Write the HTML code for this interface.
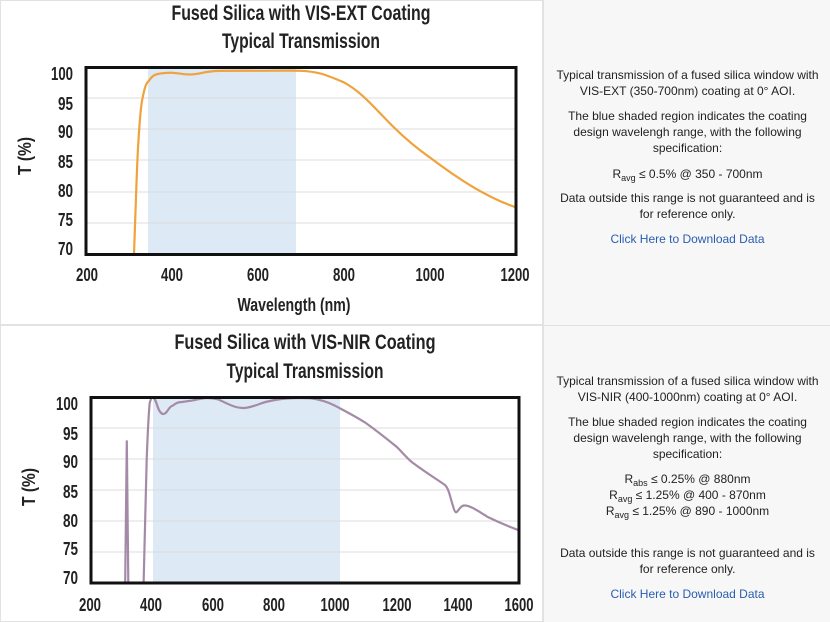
<!DOCTYPE html>
<html><head><meta charset="utf-8"><style>
html,body{margin:0;padding:0;background:#fff;}
body{width:830px;height:622px;overflow:hidden;position:relative;font-family:"Liberation Sans",sans-serif;}
.rp{position:absolute;left:543px;width:287px;background:#f7f7f7;border-left:1px solid #e2e2e2;}
.t{position:absolute;left:0;width:287px;text-align:center;font-size:12px;color:#222;line-height:16px;}
.t a{color:#2a5db0;text-decoration:none;}
sub{font-size:9px;vertical-align:-3px;line-height:0;}
</style></head><body>
<svg width="543" height="622" style="position:absolute;left:0;top:0" font-family="'Liberation Sans',sans-serif">
<rect x="0.5" y="0.5" width="542" height="324" fill="none" stroke="#e2e2e2"/>
<rect x="0.5" y="325.5" width="542" height="296" fill="none" stroke="#e2e2e2"/>
<!-- chart 1 -->
<g font-weight="bold" fill="#222" text-anchor="middle">
<text x="301" y="20" font-size="21" textLength="259" lengthAdjust="spacingAndGlyphs">Fused Silica with VIS-EXT Coating</text>
<text x="301" y="48" font-size="21" textLength="158" lengthAdjust="spacingAndGlyphs">Typical Transmission</text>
<text x="294" y="311" font-size="18" textLength="113" lengthAdjust="spacingAndGlyphs">Wavelength (nm)</text>
<text transform="translate(31,156) rotate(-90)" font-size="18" textLength="38" lengthAdjust="spacingAndGlyphs">T (%)</text>
</g>
<rect x="148" y="67" width="148" height="187" fill="#dde9f5"/>
<g stroke="#dcdcdc" stroke-width="1">
<line x1="86" x2="516" y1="98" y2="98"/><line x1="86" x2="516" y1="129" y2="129"/><line x1="86" x2="516" y1="160" y2="160"/><line x1="86" x2="516" y1="192" y2="192"/><line x1="86" x2="516" y1="223" y2="223"/>
</g>
<path d="M134,254 C136,200 137,160 138.4,141.8 C140,115 141,104 142.6,98 C144.5,88 146,83 149,80.7 C152,76 155,74 159.8,73.6 C165,72.8 168,72.6 172.6,72.8 C180,73.2 183,74.5 189.7,74.5 C198,74.5 205,71.5 215.4,71 C230,70.6 245,70.8 258,70.8 C275,70.8 290,70.4 301,70.8 C310,71.2 315,72 322.4,74 C330,76.5 336,79 343.8,82.3 C360,91 372,105 386.6,120 C400,134 415,147 429.6,157.3 C445,169 458,178 472.2,186.6 C488,196 500,202 515,207" fill="none" stroke="#f0a23d" stroke-width="2.2"/>
<rect x="86" y="67.5" width="430" height="187" fill="none" stroke="#111" stroke-width="3"/>
<g font-size="18" fill="#222" font-weight="bold" text-anchor="end">
<text x="73" y="80" textLength="22" lengthAdjust="spacingAndGlyphs">100</text><text x="73" y="110" textLength="15" lengthAdjust="spacingAndGlyphs">95</text><text x="73" y="138" textLength="15" lengthAdjust="spacingAndGlyphs">90</text><text x="73" y="168" textLength="15" lengthAdjust="spacingAndGlyphs">85</text><text x="73" y="197" textLength="15" lengthAdjust="spacingAndGlyphs">80</text><text x="73" y="226" textLength="15" lengthAdjust="spacingAndGlyphs">75</text><text x="73" y="255" textLength="15" lengthAdjust="spacingAndGlyphs">70</text>
</g>
<g font-size="18" fill="#222" font-weight="bold" text-anchor="middle">
<text x="87" y="281" textLength="22" lengthAdjust="spacingAndGlyphs">200</text><text x="172" y="281" textLength="22" lengthAdjust="spacingAndGlyphs">400</text><text x="258" y="281" textLength="22" lengthAdjust="spacingAndGlyphs">600</text><text x="344" y="281" textLength="22" lengthAdjust="spacingAndGlyphs">800</text><text x="430" y="281" textLength="29" lengthAdjust="spacingAndGlyphs">1000</text><text x="515" y="281" textLength="29" lengthAdjust="spacingAndGlyphs">1200</text>
</g>
<!-- chart 2 -->
<g font-weight="bold" fill="#222" text-anchor="middle">
<text x="305" y="349" font-size="21" textLength="261" lengthAdjust="spacingAndGlyphs">Fused Silica with VIS-NIR Coating</text>
<text x="305" y="378" font-size="21" textLength="157" lengthAdjust="spacingAndGlyphs">Typical Transmission</text>
<text transform="translate(35,487) rotate(-90)" font-size="18" textLength="38" lengthAdjust="spacingAndGlyphs">T (%)</text>
</g>
<rect x="153" y="397" width="187" height="186" fill="#dde9f5"/>
<g stroke="#dcdcdc" stroke-width="1">
<line x1="91" x2="519" y1="428" y2="428"/><line x1="91" x2="519" y1="459" y2="459"/><line x1="91" x2="519" y1="490" y2="490"/><line x1="91" x2="519" y1="521" y2="521"/><line x1="91" x2="519" y1="552" y2="552"/>
</g>
<path d="M125.2,583 L126.8,440.4 L128.3,583" fill="none" stroke="#a58aa8" stroke-width="2.2"/>
<path d="M143.6,583 C145,520 146,480 146.7,459 C148,425 149,410 149.7,403 C151,398 152,397.5 152.8,397.5 C155,398 156,402 157.4,406 C159,411 161,414 163.5,414 C167,414 169,406 172.7,405.7 C176,403 178,402 181.9,402 C186,401.5 188,401 191,400.7 C198,399.5 202,398 206.4,398 C211,398 215,398.5 218.6,399.5 C228,404 235,408 243.2,408 C252,408 260,403 267.7,401.5 C278,399 288,398 298.4,398 C304,398 307,398 310.6,398.3 C320,399.5 328,402 335,405.7 C345,411 355,416 365.8,423 C377,431 387,439 396.4,446.6 C402,452 406,457 411.7,462 C425,472 438,480 445,485 C449,489 450,497 453,506 C454,510 455,512 456.1,512.3 C458,512 460,506 463.8,505.5 C470,505 478,511 488.3,517.3 C500,523 510,527 519,530.3" fill="none" stroke="#a58aa8" stroke-width="2.2"/>
<rect x="91" y="397.5" width="428" height="185.5" fill="none" stroke="#111" stroke-width="3"/>
<g font-size="18" fill="#222" font-weight="bold" text-anchor="end">
<text x="78" y="410" textLength="22" lengthAdjust="spacingAndGlyphs">100</text><text x="78" y="440" textLength="15" lengthAdjust="spacingAndGlyphs">95</text><text x="78" y="468" textLength="15" lengthAdjust="spacingAndGlyphs">90</text><text x="78" y="498" textLength="15" lengthAdjust="spacingAndGlyphs">85</text><text x="78" y="527" textLength="15" lengthAdjust="spacingAndGlyphs">80</text><text x="78" y="555" textLength="15" lengthAdjust="spacingAndGlyphs">75</text><text x="78" y="584" textLength="15" lengthAdjust="spacingAndGlyphs">70</text>
</g>
<g font-size="18" fill="#222" font-weight="bold" text-anchor="middle">
<text x="90" y="611" textLength="22" lengthAdjust="spacingAndGlyphs">200</text><text x="151" y="611" textLength="22" lengthAdjust="spacingAndGlyphs">400</text><text x="213" y="611" textLength="22" lengthAdjust="spacingAndGlyphs">600</text><text x="274" y="611" textLength="22" lengthAdjust="spacingAndGlyphs">800</text><text x="335" y="611" textLength="29" lengthAdjust="spacingAndGlyphs">1000</text><text x="397" y="611" textLength="29" lengthAdjust="spacingAndGlyphs">1200</text><text x="458" y="611" textLength="29" lengthAdjust="spacingAndGlyphs">1400</text><text x="519" y="611" textLength="29" lengthAdjust="spacingAndGlyphs">1600</text>
</g>
</svg>
<div class="rp" style="top:0;height:325px;border-bottom:1px solid #e2e2e2;">
<div class="t" style="top:67px">Typical transmission of a fused silica window with<br>VIS-EXT (350-700nm) coating at 0° AOI.</div>
<div class="t" style="top:108px">The blue shaded region indicates the coating<br>design wavelengh range, with the following<br>specification:</div>
<div class="t" style="top:166px">R<sub>avg</sub> ≤ 0.5% @ 350 - 700nm</div>
<div class="t" style="top:190px">Data outside this range is not guaranteed and is<br>for reference only.</div>
<div class="t" style="top:231px"><a>Click Here to Download Data</a></div>
</div>
<div class="rp" style="top:326px;height:296px;">
<div class="t" style="top:47px">Typical transmission of a fused silica window with<br>VIS-NIR (400-1000nm) coating at 0° AOI.</div>
<div class="t" style="top:88px">The blue shaded region indicates the coating<br>design wavelengh range, with the following<br>specification:</div>
<div class="t" style="top:145px">R<sub>abs</sub> ≤ 0.25% @ 880nm<br>R<sub>avg</sub> ≤ 1.25% @ 400 - 870nm<br>R<sub>avg</sub> ≤ 1.25% @ 890 - 1000nm</div>
<div class="t" style="top:219px">Data outside this range is not guaranteed and is<br>for reference only.</div>
<div class="t" style="top:260px"><a>Click Here to Download Data</a></div>
</div>
</body></html>
